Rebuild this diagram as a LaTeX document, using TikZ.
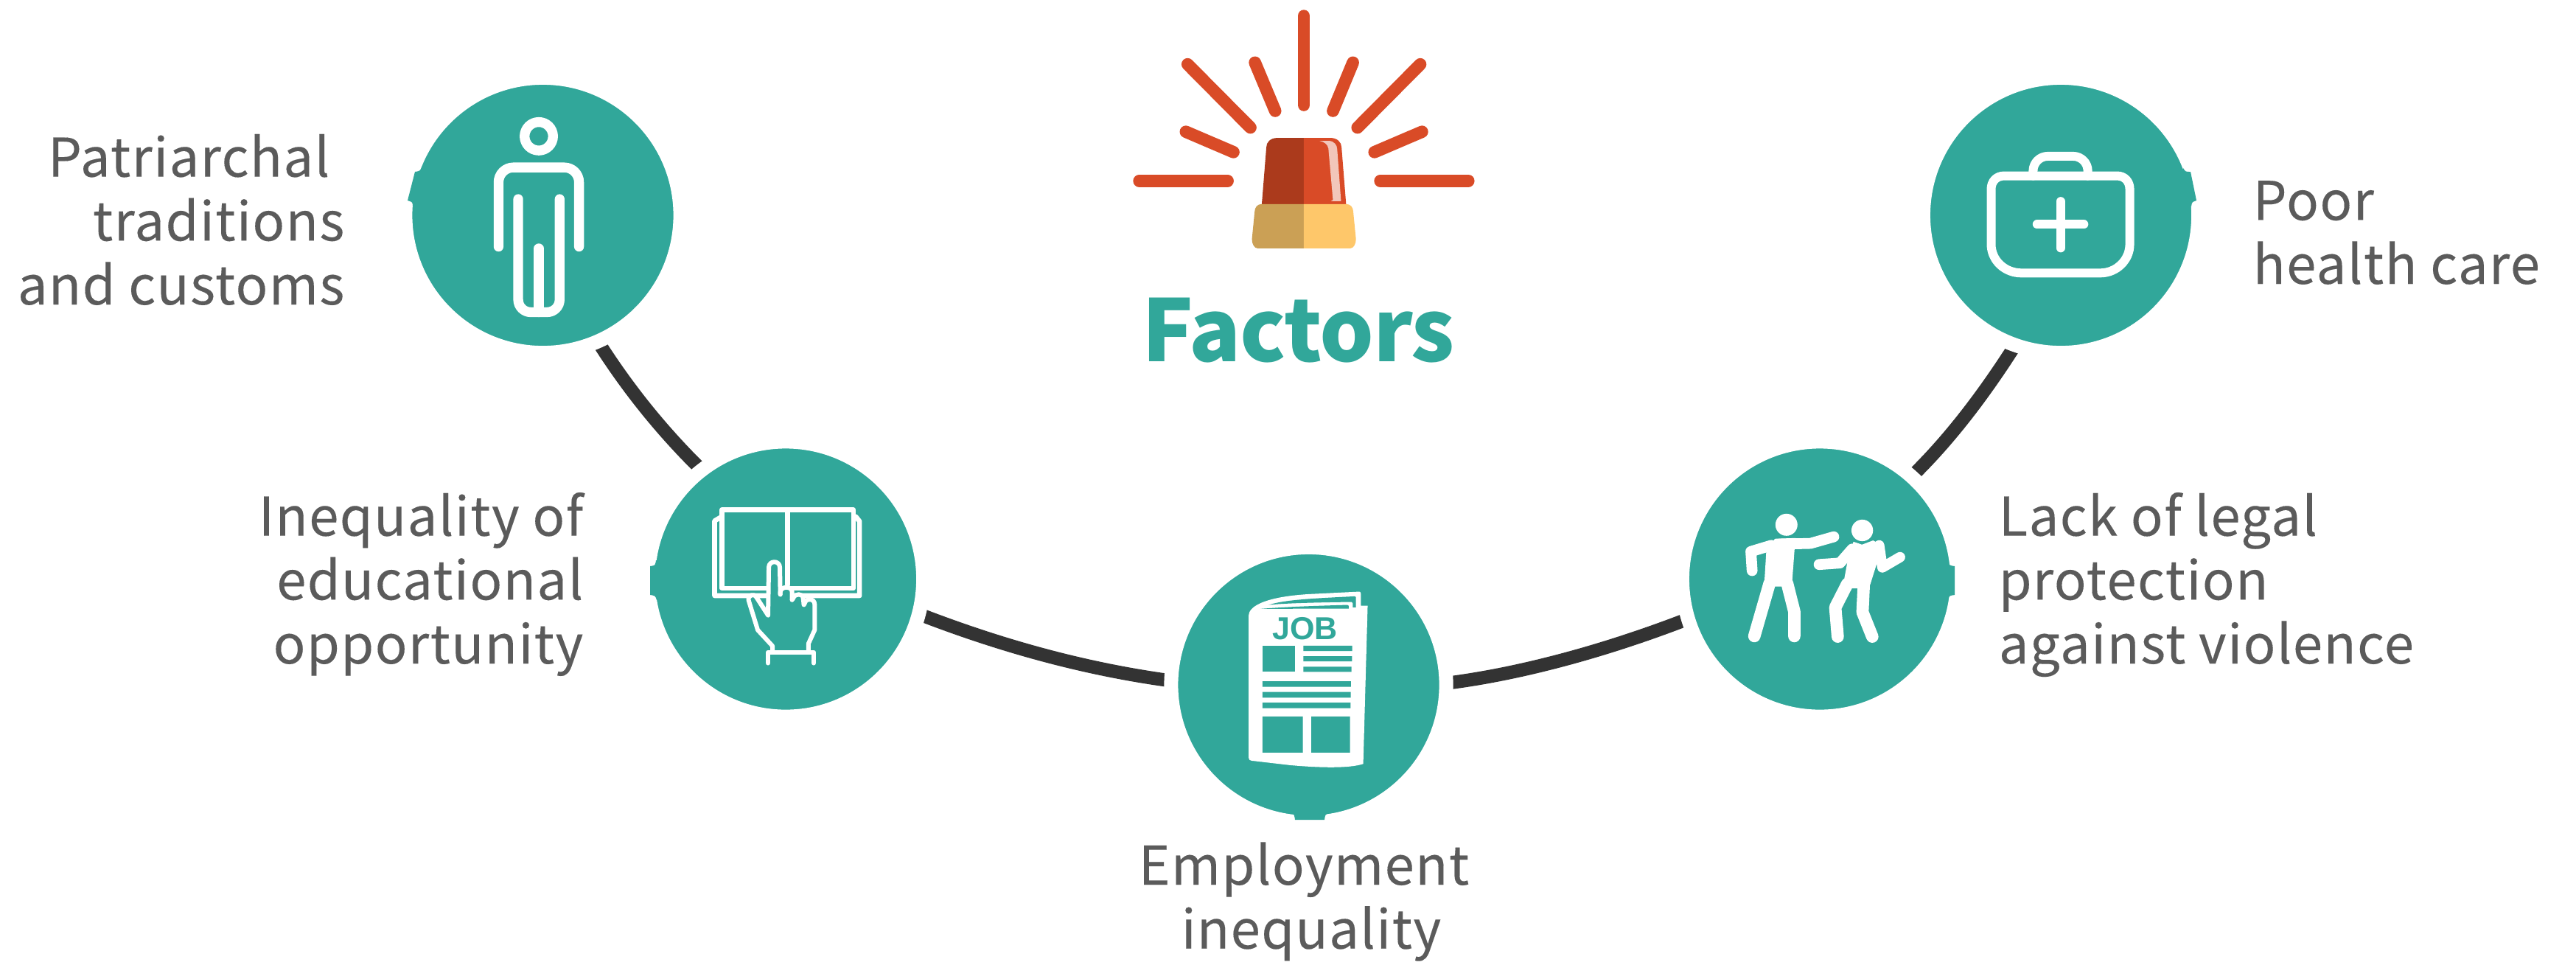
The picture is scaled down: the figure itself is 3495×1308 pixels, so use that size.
\documentclass[tikz,border=0pt]{standalone}
\usepackage{fontspec}
\setmainfont{Noto Sans CJK SC}[LetterSpace=2,FakeBold=0.15]
\newfontfamily\titlefont{Noto Sans CJK SC}[LetterSpace=-1]
\newfontfamily\jobfont{Liberation Sans}
\pgfdeclarelayer{bg}
\pgfsetlayers{bg,main}
\definecolor{tealc}{HTML}{31A79A}
\definecolor{txtc}{HTML}{5B5B5B}
\definecolor{barc}{HTML}{333333}
\definecolor{redc}{HTML}{D94B27}
\definecolor{darkred}{HTML}{AB3A1C}
\definecolor{glossc}{HTML}{F2C6BA}
\definecolor{sandc}{HTML}{CBA055}
\definecolor{yellc}{HTML}{FEC76A}
\tikzset{
  factor/.style={circle,fill=tealc,draw=white,line width=.19cm,minimum size=3.73cm,inner sep=0pt},
  conn/.style={draw=barc,line width=.18cm,line cap=rect},
  tabf/.style={fill=tealc},
  zm/.style={x=.0033333cm,y=-.0033333cm},
  zmw/.style={x=.0034364cm,y=-.0033333cm},
  ray/.style={draw=redc,line width=.167cm,line cap=round},
  ico/.style={draw=white,line cap=round,line join=round},
  lab/.style={text=txtc,inner sep=0pt,font={\fontsize{20.6pt}{24.65pt}\selectfont}},
}
\begin{document}
\begin{tikzpicture}[x=.01cm,y=-.01cm]
\useasboundingbox (0,0) rectangle (3495,1308);
% factor discs
\node[factor] (n1) at (736.5,292) {};
\node[factor] (n2) at (1066,785.5) {};
\node[factor] (n3) at (1775.5,929) {};
\node[factor] (n4) at (2469,785.5) {};
\node[factor] (n5) at (2796,292) {};
% connectors
\begin{pgfonlayer}{bg}
\draw[conn] (n1.-66.6) .. controls +(37.5,58) and +(-49,-49) .. (n2.128.9);
\draw[conn] (n2.-15.7) .. controls +(105,40) and +(-112,-16) .. (n3.178.2);
\draw[conn] (n3.1.8) .. controls +(103,-14) and +(-97,37) .. (n4.197.1);
\draw[conn] (n4.48.2) .. controls +(49,-49) and +(-37.5,58) .. (n5.250.6);
\end{pgfonlayer}
% tabs
\fill[tabf] (573,225) .. controls (570,232) .. (563,233) -- (553,272) .. controls (560,274) .. (560,282) -- (590,270) -- cycle;
\fill[tabf] (890,760) .. controls (889,767) .. (882,768) -- (882,807) .. controls (889,808) .. (891,814) -- (920,800) -- (920,770) -- cycle;
\fill[tabf] (1752,1103) .. controls (1756,1105) .. (1757,1112) -- (1797,1112) .. controls (1798,1105) .. (1802,1103) -- (1790,1090) -- (1765,1090) -- cycle;
\fill[tabf] (2643,762) .. controls (2645,767) .. (2652,768) -- (2652,807) .. controls (2645,808) .. (2643,812) -- (2620,800) -- (2620,770) -- cycle;
\fill[tabf] (2962,228) .. controls (2965,233) .. (2972,233) -- (2980,272) .. controls (2974,274) .. (2973,280) -- (2945,270) -- cycle;
% person icon
\begin{scope}[shift={(530,90)},zm]
\draw[ico,line width=.133cm] (604,285) circle[radius=58];
\draw[ico,line width=.133cm,rounded corners=.2cm] (440,735) -- (440,412) -- (768,412) -- (768,735);
\draw[ico,line width=.133cm,rounded corners=.17cm] (520,541) -- (520,1002) -- (689,1002) -- (689,541);
\draw[ico,line width=.133cm] (604,742) -- (604,1002);
\end{scope}
% book icon
\begin{scope}[shift={(860,590)},zm]
\draw[ico,line width=.066cm] (359,305) rectangle (895,625);
\draw[ico,line width=.066cm] (627,305) -- (627,610);
\draw[ico,line width=.066cm] (355,335) -- (329,350) -- (329,655) -- (920,655) -- (920,352) -- (905,333);
\fill[tealc] (565,880) -- (565,860) -- (505,795) -- (468,675) .. controls (462,655) and (490,640) .. (502,665) -- (547,735) -- (550,540) .. controls (550,510) and (595,510) .. (595,540) -- (597,640) .. controls (600,615) and (645,615) .. (645,640) -- (650,665) .. controls (655,645) and (690,645) .. (690,665) -- (697,685) .. controls (700,665) and (737,665) .. (737,690) -- (737,795) -- (712,850) -- (712,878) -- cycle;
\draw[ico,line width=.06cm] (565,880) -- (565,860) -- (505,795) -- (468,675) .. controls (462,655) and (490,640) .. (502,665) -- (547,735) -- (550,540) .. controls (550,510) and (595,510) .. (595,540) -- (597,650);
\draw[ico,line width=.06cm] (597,650) -- (597,640) .. controls (600,615) and (645,615) .. (645,640) -- (645,672);
\draw[ico,line width=.06cm] (645,672) -- (650,665) .. controls (655,645) and (690,645) .. (690,665) -- (693,692);
\draw[ico,line width=.06cm] (693,692) -- (697,685) .. controls (700,665) and (737,665) .. (737,690) -- (737,795) -- (712,850) -- (712,878);
\draw[ico,line width=.06cm] (547,930) -- (547,885) -- (733,885) -- (733,930);
\end{scope}
% job icon
\begin{scope}[shift={(1570,730)},zm]
\fill[white] (373,315) .. controls (373,285) and (420,240) .. (620,228) -- (822,218) .. controls (828,218) .. (830,225) -- (830,275) -- (858,275) -- (840,920) .. controls (780,940) and (650,935) .. (540,925) -- (385,907) .. controls (376,905) .. (373,895) -- cycle;
\fill[tealc] (455,272) .. controls (520,250) and (650,245) .. (805,237) -- (810,240) -- (810,282) -- (797,282) -- (797,265) .. controls (795,260) .. (785,260) .. controls (650,262) and (520,265) .. cycle;
\fill[tealc] (422,288) .. controls (550,278) and (680,275) .. (775,272) -- (781,276) -- (781,287) -- cycle;
\node[anchor=base,inner sep=0pt,text=tealc,font={\jobfont\bfseries\fontsize{12.25pt}{14pt}\selectfont}] (jobword) at (602,412) {JOB};
\fill[tealc] (429,438) rectangle (561,545);
\fill[tealc] (596,438) rectangle (795,460) (596,481) rectangle (794,502) (596,524) rectangle (792,545);
\fill[tealc] (429,583) rectangle (790,606) (429,627) rectangle (789,650) (429,670) rectangle (788,693);
\fill[tealc] (429,727) rectangle (594,874) (628,727) rectangle (786,874);
\end{scope}
% fighting figures icon
\begin{scope}[shift={(2270,590)},zm]
\fill[white] (462,366) circle[radius=45] (771,389) circle[radius=44];
\fill[white] (415,423) -- (500,420) -- (495,467) -- (485,600) -- (440,618) -- (415,618) -- (372,600) -- (380,470) -- cycle;
\draw[ico,line width=.147cm] (322,553) -- (317,475) -- (400,450);
\draw[ico,line width=.147cm] (430,445) -- (560,442) -- (655,415);
\draw[ico,line width=.167cm] (393,605) -- (331,820);
\draw[ico,line width=.167cm] (465,605) -- (494,720) -- (494,820);
\fill[white] (735,435) -- (770,447) -- (815,430) -- (858,452) -- (830,525) -- (805,605) -- (798,625) -- (722,625) -- (697,590) -- (710,520) -- cycle;
\draw[ico,line width=.147cm] (595,528) -- (680,522) -- (730,465);
\draw[ico,line width=.14cm] (840,450) -- (853,540) -- (925,498);
\draw[ico,line width=.167cm] (710,607) -- (661,703) -- (671,822);
\draw[ico,line width=.167cm] (777,615) -- (772,722) -- (812,822);
\end{scope}
% medical case icon
\begin{scope}[shift={(2600,150)},zm]
\draw[ico,line width=.12cm,rounded corners=.2cm] (476,266) -- (476,186) -- (699,186) -- (699,266);
\draw[ico,line width=.12cm] (358,266) -- (818,266) .. controls (850,266) and (870,290) .. (870,320) -- (870,545) .. controls (870,610) and (815,662) .. (750,662) -- (428,662) .. controls (360,662) and (305,610) .. (305,545) -- (305,320) .. controls (305,290) and (325,266) .. cycle;
\draw[ico,line width=.12cm] (492,464) -- (683,464) (588,370) -- (588,560);
\end{scope}
% siren
\begin{scope}[shift={(1500,0)},zmw]
\draw[ray] (783,65) -- (783,428);
\draw[ray] (590,255) -- (670,452);
\draw[ray] (977,255) -- (898,452);
\draw[ray] (324,262) -- (572,520);
\draw[ray] (1243,262) -- (995,520);
\draw[ray] (317,537) -- (505,620);
\draw[ray] (1250,537) -- (1062,620);
\draw[ray] (133,737) -- (482,737);
\draw[ray] (1085,737) -- (1433,737);
\fill[darkred] (783,562) -- (680,562) .. controls (650,562) and (635,580) .. (635,600) -- (617,832) -- (783,832) -- cycle;
\fill[redc] (783,562) -- (888,562) .. controls (915,562) and (932,580) .. (932,600) -- (950,832) -- (783,832) -- cycle;
\fill[glossc] (845,574) -- (880,574) .. controls (902,574) and (915,590) .. (915,610) -- (930,820) -- (890,820) -- (898,815) -- (880,605) .. controls (878,590) and (865,578) .. (845,574) -- cycle;
\fill[sandc] (783,832) -- (615,832) .. controls (600,832) and (590,845) .. (589,860) -- (578,975) .. controls (578,995) and (588,1012) .. (600,1012) -- (783,1012) -- cycle;
\fill[yellc] (783,832) -- (952,832) .. controls (967,832) and (977,845) .. (978,860) -- (989,975) .. controls (989,995) and (979,1012) .. (967,1012) -- (783,1012) -- cycle;
\end{scope}
% labels
\node[anchor=base west,inner sep=0pt,text=tealc,font={\titlefont\bfseries\fontsize{33pt}{40pt}\selectfont}] (title) at (1549,490.7) {Factors};
\node[lab,align=right,anchor=base east] (l1) at (468,413) {Patriarchal\kern.2cm\\traditions\\and customs};
\node[lab,align=right,anchor=base east] (l2) at (792,900) {Inequality of\\educational\\opportunity};
\node[lab,align=center,anchor=base] (l3) at (1779,1286.7) {Employment\kern.2cm\\inequality};
\node[lab,align=left,anchor=base west] (l4) at (2711,900) {Lack of legal\\protection\\against violence};
\node[lab,align=left,anchor=base west] (l5) at (3056,385) {Poor\\health care};
\end{tikzpicture}
\end{document}
